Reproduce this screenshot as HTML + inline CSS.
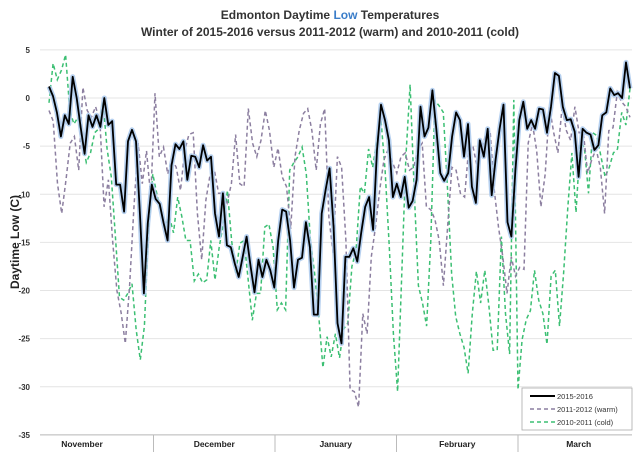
<!DOCTYPE html>
<html><head><meta charset="utf-8"><style>
body{margin:0;background:#fff;}
svg{display:block;font-family:"Liberation Sans",sans-serif;}
</style></head><body>
<svg id="chart" width="640" height="456" viewBox="0 0 640 456">
<text x="330" y="19" text-anchor="middle" font-size="12" font-weight="bold" fill="#333">Edmonton Daytime <tspan fill="#3a7dc9">Low</tspan> Temperatures</text>
<text x="330" y="36" text-anchor="middle" font-size="12" font-weight="bold" fill="#333">Winter of 2015-2016 versus 2011-2012 (warm) and 2010-2011 (cold)</text>
<text transform="translate(19,242) rotate(-90)" text-anchor="middle" font-size="12" font-weight="bold" fill="#222">Daytime Low (C)</text>
<g id="grid"></g><g id="marks"></g><g id="xaxis"></g>
<g>
<rect x="522" y="388" width="110" height="42" fill="#fff" stroke="#aaa" stroke-width="0.8"/>
<g><line x1="530" y1="396" x2="555" y2="396" stroke="#000" stroke-width="2"/><text x="557" y="399" font-size="7.5" fill="#333">2015-2016</text></g>
<g><line x1="530" y1="409" x2="555" y2="409" stroke="#8c7fa0" stroke-width="1.5" stroke-dasharray="4,3"/><text x="557" y="412" font-size="7.5" fill="#333">2011-2012 (warm)</text></g>
<g><line x1="530" y1="422" x2="555" y2="422" stroke="#3cbf73" stroke-width="1.5" stroke-dasharray="4,3"/><text x="557" y="425" font-size="7.5" fill="#333">2010-2011 (cold)</text></g>
</g>
</svg>
<script>
const yTicks=[5,0,-5,-10,-15,-20,-25,-30,-35];
const months=["November","December","January","February","March"];
const series2015=[1.2,0.2,-1.5,-4,-1.8,-2.7,2.2,0,-3,-5.8,-1.8,-3,-1.8,-3,0,-2.8,-2.4,-9,-9,-11.8,-4.5,-3.3,-4.5,-12,-20.3,-13,-9,-10.5,-11,-13,-14.8,-7,-4.8,-5.3,-4.5,-8.5,-6,-6.1,-7.2,-4.9,-6.5,-6.1,-12,-14.4,-9.9,-15.3,-15.5,-17.2,-18.6,-16.5,-14.4,-17.5,-20.2,-16.8,-18.6,-16.8,-17.9,-19.7,-14.8,-11.6,-11.8,-14.8,-19.7,-16.8,-16.6,-12.9,-15.5,-22.5,-22.5,-12,-9.5,-7.3,-13.4,-23.4,-25.5,-16.5,-16.5,-15.6,-17,-14,-11.3,-10.3,-13.7,-5.4,-0.7,-2.3,-4.4,-10.3,-8.9,-10.3,-8.2,-11.4,-10.7,-8.5,-0.9,-4,-3.1,0.8,-3.2,-7.8,-8.6,-7.8,-4,-1.5,-2.3,-6.1,-2.7,-9.2,-10.9,-4.4,-6.1,-3.2,-10.1,-6.4,-3.2,-0.7,-12.9,-14.4,-7.5,-2.3,-0.4,-3.2,-2.3,-3.2,-1.1,-1.2,-3.6,-0.9,2.6,2.3,-0.9,-2.3,-2.2,-3.5,-8.2,-3.2,-3.6,-3.8,-5.4,-4.9,-1.8,-1.5,1,0.3,0.5,0,3.7,1.0];
const series2011=[-1.3,-2.4,-8.9,-12,-8.5,-4.7,-4,-7.5,1.1,-1.3,-2,-0.9,-2.4,-11.3,-8.5,-14.8,-20,-22.3,-25.5,-19.5,-11.6,-4.7,-8.9,-5.5,-10.3,0.5,-6.1,-5.1,-7.9,-6.4,-7.2,-9.6,-5.5,-3.8,-3.6,-12,-16.8,-10.6,-7.9,-7.5,-9.9,-9.9,-10.9,-8.9,-3.8,-8.9,-9.2,-1.1,-4.7,-6.1,-4.4,-1.3,-3.4,-7.2,-5.2,-8.2,-9.2,-13.6,-6.1,-3.4,-1.6,-1.1,-3.4,-7.5,-2.7,-1.1,-12.4,-16.1,-6.1,-7.2,-14.8,-30.3,-30.5,-32.1,-22.4,-24.5,-16.5,-13.4,-9.5,-6.4,-5.3,-6.7,-7.8,-6.1,-5.7,-7.5,-7.2,-5.3,-4.7,-11.3,-11.6,-12.6,-14.8,-19.5,-13.4,-7.2,-7.5,-9.9,-10.3,-5.1,-5.1,-7.2,-5.3,-3.8,-3.4,-9.6,-13.4,-16.5,-20.3,-16.5,-18.5,-17.6,-17.8,-4.7,-2.7,-5.5,-11.3,-7.9,-0.9,-3.6,-5.7,-0.9,-3.4,-4.4,-0.9,-3.6,-3.6,-7.8,-6.4,-5.3,-7.2,-12,-3.4,-3.1,0.6,-0.4,-0.9,-2.0];
const series2010=[-0.5,3.6,1.9,2.9,4.5,-1.3,-2.7,-2,-4.4,-6.7,-5.7,-3.6,-3.2,-0.4,-5.3,-8.2,-14.4,-20.7,-21,-20.3,-19.3,-24.1,-27.2,-23.7,-13.4,-7.9,-10,-11.9,-13.4,-12.3,-14,-10.3,-12.3,-14.8,-14.8,-19,-18.3,-19.2,-18.9,-14.8,-18.9,-15.5,-13.1,-9.6,-14.8,-18.2,-15.1,-14.8,-18.9,-23.1,-20.3,-20.3,-13.4,-13.1,-15.5,-22,-21.3,-22,-7.5,-6.7,-6.1,-5.1,-7.9,-14.8,-18.2,-22.7,-28,-24.8,-26.9,-24.5,-27,-24,-23.4,-17.5,-15.8,-9.2,-9.9,-5.3,-7.2,-4.4,-2.3,-7.5,-15.5,-24.5,-30.5,-18.2,-6.1,1.4,-9.6,-19.5,-21.3,-23.7,-14.8,-0.3,-0.8,-1.5,-9.2,-18.2,-22.7,-24.5,-25.9,-28.6,-22.4,-18,-21.3,-17.9,-21.6,-26.2,-26.2,-14.4,-22.4,-26.6,-0.2,-30.3,-25.1,-23,-22.1,-17.9,-21,-22.4,-25.6,-18.5,-17.9,-23.7,-18.2,-11.4,-5.7,-11.9,-4.7,-5.1,-9.9,-3.6,-3.9,-6.1,-8.2,-7.2,-5.7,-5.3,-1.5,-2.8,1];
const NS="http://www.w3.org/2000/svg";
const X0=49,X1=630,PL=40,PR=632,MS=32,MW=121.5;
function yS(v){return 98-v*9.625;}
function xS(i,n){return X0+i*(X1-X0)/(n-1);}
function mk(t,a,p){const e=document.createElementNS(NS,t);for(const k in a)e.setAttribute(k,a[k]);p.appendChild(e);return e;}
const grid=document.getElementById('grid'),marks=document.getElementById('marks'),xa=document.getElementById('xaxis');
yTicks.forEach(v=>{
 const l=mk('line',{x1:PL,x2:PR,y1:yS(v),y2:yS(v),stroke:'#e4e4e4','stroke-width':1},grid);
 
 
 const t=mk('text',{x:30,y:yS(v)+3,'text-anchor':'end','font-size':8,'font-weight':'bold',fill:'#333'},grid);
 t.textContent=v;
 
 
});
const ax=mk('line',{x1:PL,x2:PR,y1:yS(-35),y2:yS(-35),stroke:'#bbb'},xa);


months.forEach((m,i)=>{
 const sx=MS+(i+1)*MW;
 if(i<months.length-1){const s=mk('line',{x1:sx,x2:sx,y1:yS(-35),y2:452,stroke:'#bbb'},xa);
 
 }
 const cx=i===0?82:MS+(i+0.5)*MW;
 const t=mk('text',{x:cx,y:447,'text-anchor':'middle','font-size':8.5,'font-weight':'bold',fill:'#222'},xa);
 t.textContent=m;
 
 
});
function pts(arr){return arr.map((v,i)=>xS(i,arr.length).toFixed(1)+','+yS(v).toFixed(1)).join(' ');}
const p10=mk('polyline',{points:pts(series2010),fill:'none',stroke:'#3cbf73','stroke-width':1.5,'stroke-dasharray':'4,3'},marks);


const p11=mk('polyline',{points:pts(series2011),fill:'none',stroke:'#8c7fa0','stroke-width':1.5,'stroke-dasharray':'4,3'},marks);


const glow=mk('polyline',{points:pts(series2015),fill:'none',stroke:'#a9c8ec','stroke-width':5,'stroke-linejoin':'round','stroke-opacity':0.85},marks);


const p15=mk('polyline',{points:pts(series2015),fill:'none',stroke:'#000','stroke-width':1.8,'stroke-linejoin':'round'},marks);


</script>
</body></html>
